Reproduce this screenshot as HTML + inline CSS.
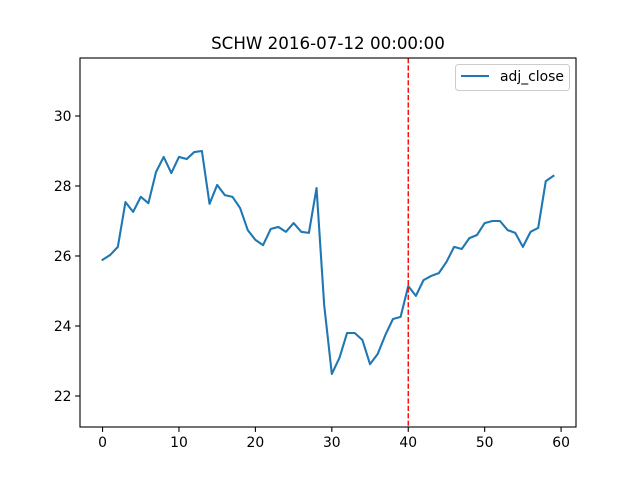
<!DOCTYPE html>
<html><head><meta charset="utf-8"><style>
body{margin:0;background:#fff;font-family:"Liberation Sans","DejaVu Sans",sans-serif;}
svg text{font-family:"DejaVu Sans","Liberation Sans",sans-serif;}
</style></head><body>
<svg id="c" width="640" height="480" xmlns="http://www.w3.org/2000/svg"></svg>
<script>
const xTicks=[0,10,20,30,40,50,60];
const yTicks=[22,24,26,28,30];
const adjClose=[25.89,26.03,26.26,27.54,27.26,27.69,27.51,28.4,28.83,28.37,28.83,28.77,28.97,29.0,27.49,28.03,27.74,27.69,27.37,26.74,26.46,26.31,26.77,26.83,26.69,26.94,26.69,26.66,27.94,24.6,22.63,23.09,23.8,23.8,23.6,22.91,23.2,23.74,24.2,24.26,25.14,24.86,25.31,25.43,25.51,25.83,26.26,26.2,26.51,26.6,26.94,27.0,27.0,26.74,26.66,26.26,26.69,26.8,28.14,28.29];
const markerX=[40];
const title="SCHW 2016-07-12 00:00:00";
const L=80,R=576,T=58,B=427;
const xMin=-2.95,xMax=61.95,yMin=21.114,yMax=31.657;
const sx=v=>L+(v-xMin)/(xMax-xMin)*(R-L);
const sy=v=>B-(v-yMin)/(yMax-yMin)*(B-T);
const svg=document.getElementById('c');const NS="http://www.w3.org/2000/svg";
function mk(t,a,txt){const e=document.createElementNS(NS,t);for(const k in a)e.setAttribute(k,a[k]);if(txt!==undefined)e.textContent=txt;svg.appendChild(e);return e;}
let e;
e=mk('text',{x:(L+R)/2,y:49,'text-anchor':'middle','font-size':'16.7',fill:'#000'},title);


xTicks.forEach(v=>{const x=sx(v);
e=mk('line',{x1:x,x2:x,y1:B,y2:B+4.9,stroke:'#000','stroke-width':1.1});


e=mk('text',{x:x,y:B+20,'text-anchor':'middle','font-size':'13.9',fill:'#000'},String(v));

});
yTicks.forEach(v=>{const y=sy(v);
e=mk('line',{x1:L-4.9,x2:L,y1:y,y2:y,stroke:'#000','stroke-width':1.1});


e=mk('text',{x:L-8.5,y:y+5,'text-anchor':'end','font-size':'13.9',fill:'#000'},String(v));

});
e=mk('polyline',{points:adjClose.map((v,i)=>sx(i)+','+sy(v)).join(' '),fill:'none',stroke:'#1f77b4','stroke-width':2.1,'stroke-linejoin':'round','stroke-linecap':'square'});


markerX.forEach(v=>{e=mk('line',{x1:sx(v),x2:sx(v),y1:T,y2:B,stroke:'#ff0000','stroke-width':1.4,'stroke-dasharray':'5.2,2.2'});

});
e=mk('rect',{x:L,y:T,width:R-L,height:B-T,fill:'none',stroke:'#000','stroke-width':1.1});


e=mk('rect',{x:455.5,y:64.5,width:114,height:26,rx:3,fill:'#fff',stroke:'#ccc','stroke-width':1});


e=mk('line',{x1:461,x2:489,y1:76,y2:76,stroke:'#1f77b4','stroke-width':2.1});


e=mk('text',{x:500,y:81,'font-size':'13.9',fill:'#000'},'adj_close');


</script>
</body></html>
